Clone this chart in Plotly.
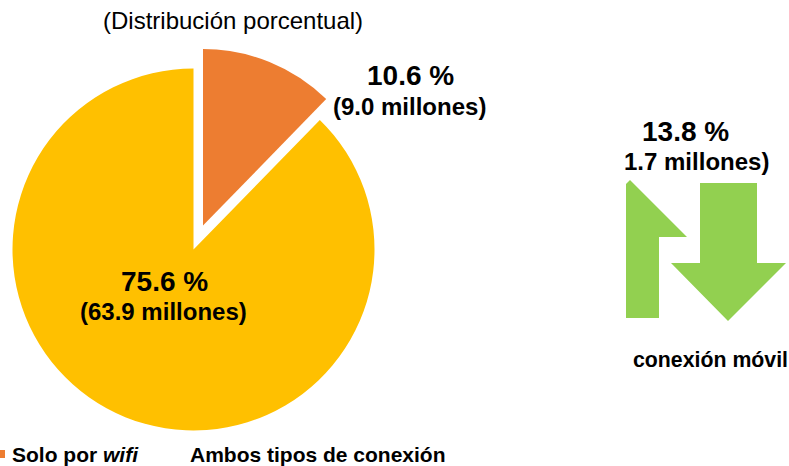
import plotly.graph_objects as go

W, H = 789, 466
FONT = "Liberation Sans, Arial, sans-serif"

labels = ["Solo por wifi", "Ambos tipos de conexión"]
shares = [10.6, 75.6]
ORANGE, YELLOW, GREEN = "#ED7D31", "#FFC000", "#92D050"
CLEAR = "rgba(0,0,0,0)"


def fx(x):
    return x / W


def fy(y):
    return 1 - y / H


def domain(cx, cy, r):
    return dict(x=[fx(cx - r), fx(cx + r)], y=[fy(cy + r), fy(cy - r)])


def pie(colors, cx, cy, r):
    return go.Pie(
        labels=labels, values=shares, sort=False, direction="clockwise", rotation=0,
        marker=dict(colors=colors, line=dict(width=0)), textinfo="none",
        hoverinfo="label+percent", showlegend=False, domain=domain(cx, cy, r),
    )


fig = go.Figure([
    pie([CLEAR, YELLOW], 193.5, 249.5, 181),
    pie([ORANGE, CLEAR], 203, 225.5, 176.5),
])


def path(points):
    return "M " + " L ".join(f"{fx(x):.5f} {fy(y):.5f}" for x, y in points) + " Z"


up_arrow = [(626, 318), (659, 318), (659, 237), (687, 237), (630, 180), (626, 184), (626, 318)]
down_arrow = [(700, 183), (757, 183), (757, 263), (786, 263), (728, 321), (671, 263), (700, 263)]
legend_chip = [(0, 450), (5, 450), (5, 458), (0, 458)]

shapes = [
    dict(type="path", xref="paper", yref="paper", path=path(up_arrow), fillcolor=GREEN, line=dict(width=0)),
    dict(type="path", xref="paper", yref="paper", path=path(down_arrow), fillcolor=GREEN, line=dict(width=0)),
    dict(type="path", xref="paper", yref="paper", path=path(legend_chip), fillcolor=ORANGE, line=dict(width=0)),
]


def note(text, x, y, size, anchor="center"):
    return dict(text=text, x=fx(x), y=fy(y), xref="paper", yref="paper", showarrow=False,
                xanchor=anchor, yanchor="middle", font=dict(family=FONT, size=size, color="#000"))


annotations = [
    note("(Distribución porcentual)", 233, 20.5, 24),
    note("<b>10.6 %</b>", 410.5, 76, 28),
    note("<b>(9.0 millones)</b>", 409.5, 107, 24),
    note("<b>13.8 %</b>", 685, 131, 28),
    note("<b>1.7 millones)</b>", 771, 162, 24, "right"),
    note("<b>75.6 %</b>", 164.5, 281, 28),
    note("<b>(63.9 millones)</b>", 163.5, 311, 24),
    note("<b>conexión móvil</b>", 789.5, 359.5, 21.3, "right"),
    note("<b>Solo por <i>wifi</i></b>", 10, 454, 21, "left"),
    note("<b>Ambos tipos de conexión</b>", 188, 454, 21, "left"),
]

fig.update_layout(
    width=W, height=H, margin=dict(l=0, r=0, t=0, b=0),
    paper_bgcolor="white", plot_bgcolor="white", showlegend=False,
    shapes=shapes, annotations=annotations,
)
fig.write_html(
    "out.html",
    config=dict(displayModeBar=False),
    post_script="document.body.style.margin='0';document.documentElement.style.overflow='hidden';",
)
